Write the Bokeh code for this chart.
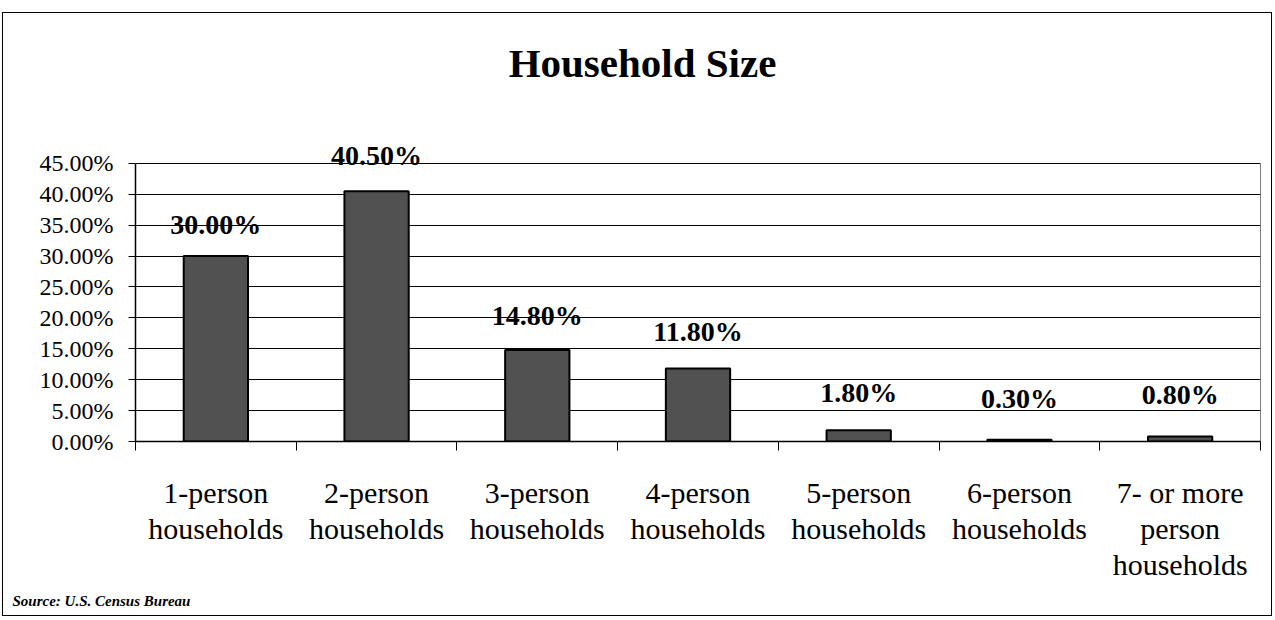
from bokeh.plotting import figure
from bokeh.models import (ColumnDataSource, Range1d, LinearAxis, Label,
                          FixedTicker, PrintfTickFormatter, LabelSet, Title)
from bokeh.core.properties import value
from bokeh.embed import file_html
from bokeh.resources import INLINE

# ---- data ----
categories = ["1-person\nhouseholds", "2-person\nhouseholds", "3-person\nhouseholds",
              "4-person\nhouseholds", "5-person\nhouseholds", "6-person\nhouseholds",
              "7- or more\nperson\nhouseholds"]
values = [30.0, 40.5, 14.8, 11.8, 1.8, 0.3, 0.8]
value_labels = ["30.00%", "40.50%", "14.80%", "11.80%", "1.80%", "0.30%", "0.80%"]
label_y = [35.1, 46.3, 20.4, 17.8, 7.9, 7.0, 7.6]
y_ticks = [0, 5, 10, 15, 20, 25, 30, 35, 40, 45]

SERIF = "Liberation Serif"

n = len(categories)
xpos = list(range(1, n + 1))
src = ColumnDataSource(dict(x=xpos, val=values, label=value_labels, ly=label_y))

# the frame reaches up to the top of the chart so that the title and the
# top data label can be drawn inside it; the visible plot area stops at 45%
p = figure(x_range=Range1d(0.5, n + 0.5), y_range=Range1d(0, 66),
           width=1270, height=604, output_backend="svg", toolbar_location=None,
           x_axis_location=None,
           min_border_left=132, min_border_right=13, min_border_top=20, min_border_bottom=176,
           styles={"border": "1px solid black", "margin-left": "2px", "margin-top": "12px"})

p.background_fill_color = "white"
p.border_fill_color = "white"
p.outline_line_color = None

p.vbar(x="x", top="val", width=0.4, source=src,
       fill_color="#515151", line_color="black", line_width=2)

# right edge of the plot area
p.segment(x0=[n + 0.5], y0=[y_ticks[0]], x1=[n + 0.5], y1=[y_ticks[-1]],
          line_color="black", line_width=1)

# y axis
p.yaxis.ticker = FixedTicker(ticks=y_ticks)
p.yaxis.bounds = (y_ticks[0], y_ticks[-1])
p.yaxis.formatter = PrintfTickFormatter(format="%.2f%%")
p.yaxis.major_tick_in = 0
p.yaxis.major_tick_out = 7
p.yaxis.minor_tick_line_color = None
p.yaxis.axis_line_color = "black"
p.yaxis.axis_line_width = 1.5
p.yaxis.major_tick_line_color = "black"
p.yaxis.major_label_text_font = SERIF
p.yaxis.major_label_text_font_size = "24px"
p.yaxis.major_label_text_color = "black"
p.yaxis.major_label_standoff = 15

p.ygrid.ticker = FixedTicker(ticks=y_ticks)
p.ygrid.grid_line_color = "black"
p.ygrid.grid_line_width = 1
p.xgrid.grid_line_color = None

# category axis: labels under bars, tick marks between categories
cat_axis = LinearAxis(ticker=FixedTicker(ticks=xpos, minor_ticks=[k + 0.5 for k in range(n + 1)]),
                      major_label_overrides={x: c for x, c in zip(xpos, categories)},
                      major_tick_line_color=None, major_tick_in=0, major_tick_out=9,
                      minor_tick_line_color="black", minor_tick_in=0, minor_tick_out=9,
                      axis_line_color="black", axis_line_width=1.5,
                      major_label_text_font=SERIF, major_label_text_font_size="30px",
                      major_label_text_line_height=1.1,
                      major_label_text_color="black", major_label_standoff=25)
p.add_layout(cat_axis, "below")

# data labels
labels = LabelSet(x="x", y="ly", text="label", source=src,
                  text_align="center", text_baseline="middle",
                  text_font=value(SERIF), text_font_size="28px", text_font_style="bold",
                  text_color="black")
p.add_layout(labels)

# title (screen units are measured from the frame's lower-left corner)
title = Label(x=507, y=379, x_units="screen", y_units="screen", text="Household Size",
              text_align="center", text_baseline="middle", text_font=SERIF,
              text_font_size="41px", text_font_style="bold", text_color="black")
p.add_layout(title)

src_note = Title(text="Source:  U.S. Census Bureau", align="left", text_font=SERIF,
                 text_font_size="15px", text_font_style="bold italic", text_color="black",
                 offset=-123, standoff=12)
p.add_layout(src_note, "below")

open("out.html", "w").write(file_html(p, INLINE))
